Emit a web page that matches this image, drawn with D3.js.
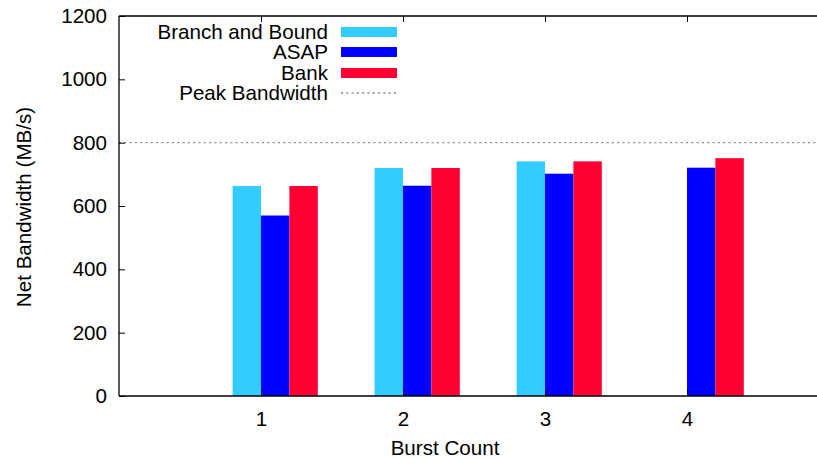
<!DOCTYPE html>
<html>
<head>
<meta charset="utf-8">
<script src="https://cdn.jsdelivr.net/npm/d3@7/dist/d3.min.js"></script>
<style>
body { margin: 0; background: #fff; }
svg { display: block; font-family: "Liberation Sans", Arial, sans-serif; }
</style>
</head>
<body>
<svg id="chart" width="817" height="459"></svg>
<script>
const categories = [1, 2, 3, 4];
const seriesNames = ["Branch and Bound", "ASAP", "Bank"];
const branchAndBound = [663, 720, 741, 0];
const asap = [570, 664, 702, 721];
const bank = [663, 720, 741, 751];
const peakBandwidth = 800;
const yTicks = [0, 200, 400, 600, 800, 1000, 1200];
const colors = ["#33ccff", "#0000ff", "#ff0033"];

const svg = d3.select("#chart");
const pLeft = 119, pTop = 16, pBottom = 396, pRight = 829;
const fs = 20.6;

const x = d3.scaleLinear().domain([0, 5]).range([pLeft, pRight]);
const y = d3.scaleLinear().domain([0, 1200]).range([pBottom, pTop]);

const series = [branchAndBound, asap, bank];
const offsets = [-0.2, 0, 0.2];
const bw = 0.2;

// peak line
svg.append("line")
  .attr("x1", pLeft).attr("x2", 817)
  .attr("y1", y(peakBandwidth)).attr("y2", y(peakBandwidth))
  .attr("stroke", "#888").attr("stroke-width", 1.3)
  .attr("stroke-dasharray", "2,3.3");

// bars
series.forEach((vals, si) => {
  svg.append("g").selectAll("rect").data(categories).join("rect")
    .attr("x", (c) => x(c + offsets[si]))
    .attr("width", (c) => x(c + offsets[si] + bw) - x(c + offsets[si]))
    .attr("y", (c, i) => y(vals[i]))
    .attr("height", (c, i) => y(0) - y(vals[i]))
    .attr("fill", colors[si]);
});

// frame
svg.append("line").attr("x1", pLeft).attr("x2", pLeft).attr("y1", pTop).attr("y2", pBottom)
  .attr("stroke", "#000").attr("stroke-width", 1.3);
svg.append("line").attr("x1", pLeft).attr("x2", 817).attr("y1", pBottom).attr("y2", pBottom)
  .attr("stroke", "#000").attr("stroke-width", 1.3);
svg.append("line").attr("x1", pLeft).attr("x2", 817).attr("y1", pTop).attr("y2", pTop)
  .attr("stroke", "#000").attr("stroke-width", 1.3);

// y axis
const yAxis = d3.axisLeft(y).tickValues(yTicks).tickSize(-6).tickPadding(12).tickFormat(d3.format("d"));
const gy = svg.append("g").attr("transform", `translate(${pLeft},0)`).call(yAxis);
gy.select(".domain").remove();
gy.selectAll("line").attr("stroke", "#000");
gy.selectAll("text").attr("font-size", fs).attr("fill", "#000")
  .attr("font-family", "Liberation Sans, Arial, sans-serif");

// x axis bottom
const xAxis = d3.axisBottom(x).tickValues(categories).tickSize(-6).tickPadding(15).tickFormat(d3.format("d"));
const gx = svg.append("g").attr("transform", `translate(0,${pBottom})`).call(xAxis);
gx.select(".domain").remove();
gx.selectAll("line").attr("stroke", "#000");
gx.selectAll("text").attr("font-size", fs).attr("fill", "#000")
  .attr("font-family", "Liberation Sans, Arial, sans-serif");

// x axis top mirror ticks
const gxt = svg.append("g").attr("transform", `translate(0,${pTop})`)
  .call(d3.axisTop(x).tickValues(categories).tickSize(-6).tickFormat(""));
gxt.select(".domain").remove();
gxt.selectAll("line").attr("stroke", "#000");

// axis titles
svg.append("text").attr("x", 445).attr("y", 455).attr("text-anchor", "middle")
  .attr("font-size", fs).text("Burst Count");
svg.append("text").attr("transform", "translate(31,207) rotate(-90)")
  .attr("text-anchor", "middle").attr("font-size", fs).text("Net Bandwidth (MB/s)");

// legend
const legY = [32, 52, 73, 93];
const legNames = seriesNames.concat(["Peak Bandwidth"]);
legNames.forEach((name, i) => {
  svg.append("text").attr("x", 328).attr("y", legY[i]).attr("dy", "0.35em")
    .attr("text-anchor", "end").attr("font-size", fs).text(name);
  if (i < 3) {
    svg.append("rect").attr("x", 341).attr("y", legY[i] - 5).attr("width", 56).attr("height", 10)
      .attr("fill", colors[i]);
  } else {
    svg.append("line").attr("x1", 341).attr("x2", 397).attr("y1", legY[i]).attr("y2", legY[i])
      .attr("stroke", "#888").attr("stroke-width", 1.3).attr("stroke-dasharray", "2,3.3");
  }
});
</script>
</body>
</html>
